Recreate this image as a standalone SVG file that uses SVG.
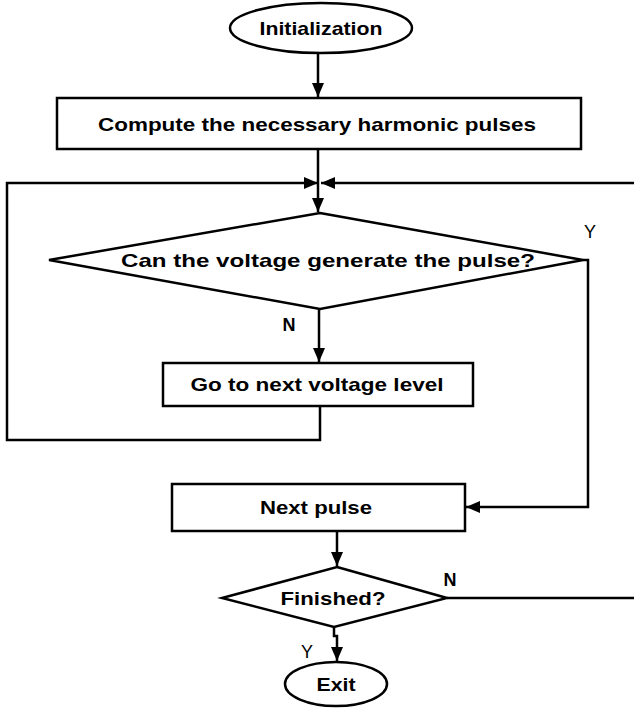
<svg xmlns="http://www.w3.org/2000/svg" width="634" height="708" viewBox="0 0 634 708">
<defs>
<marker id="ah" markerUnits="userSpaceOnUse" markerWidth="14" markerHeight="12" viewBox="0 0 14 12" refX="14" refY="6" orient="auto">
<path d="M0,0 L14,6 L0,12 z" fill="#000"/>
</marker>
</defs>
<style>
.s{fill:#fff;stroke:#000;stroke-width:2.5}
.c{fill:none;stroke:#000;stroke-width:2.5}
.t{font-family:"Liberation Sans",Arial,sans-serif;font-weight:bold;font-size:19px;fill:#000;text-anchor:middle;dominant-baseline:central}
.l{font-family:"Liberation Sans",Arial,sans-serif;font-weight:bold;font-size:18px;fill:#000;text-anchor:middle;dominant-baseline:central}
.y{font-weight:normal}
</style>
<rect width="634" height="708" fill="#fff"/>
<g id="connectors">
<path class="c" d="M318,53 V97" marker-end="url(#ah)"/>
<path class="c" d="M318,149 V212" marker-end="url(#ah)"/>
<path class="c" d="M320,406 V440 H7 V183 H318" marker-end="url(#ah)"/>
<path class="c" d="M634,183 H321" marker-end="url(#ah)"/>
<path class="c" d="M583,260 H588 V507 H466" marker-end="url(#ah)"/>
<path class="c" d="M319,309 V362" marker-end="url(#ah)"/>
<path class="c" d="M337,531 V566" marker-end="url(#ah)"/>
<path class="c" d="M447,598 H634"/>
<path class="c" d="M334,627 V636 H337 V661" marker-end="url(#ah)"/>
</g>
<g id="init">
<ellipse class="s" cx="321" cy="28" rx="91" ry="25"/>
<text class="t" x="321" y="28" textLength="123" lengthAdjust="spacingAndGlyphs">Initialization</text>
</g>
<g id="compute">
<rect class="s" x="57" y="98" width="524" height="51"/>
<text class="t" x="317" y="124" textLength="438" lengthAdjust="spacingAndGlyphs">Compute the necessary harmonic pulses</text>
</g>
<g id="decision1">
<polygon class="s" points="320,213 583,260 320,309 49,260"/>
<text class="t" x="328" y="260" textLength="414" lengthAdjust="spacingAndGlyphs">Can the voltage generate the pulse?</text>
</g>
<g id="nextlevel">
<rect class="s" x="163" y="363" width="310" height="43"/>
<text class="t" x="317" y="384" textLength="253" lengthAdjust="spacingAndGlyphs">Go to next voltage level</text>
</g>
<g id="nextpulse">
<rect class="s" x="172" y="484" width="293" height="47"/>
<text class="t" x="316" y="507" textLength="112" lengthAdjust="spacingAndGlyphs">Next pulse</text>
</g>
<g id="finished">
<polygon class="s" points="337,567 447,598 334,627 222,598"/>
<text class="t" x="333" y="598" textLength="105" lengthAdjust="spacingAndGlyphs">Finished?</text>
</g>
<g id="exit">
<ellipse class="s" cx="336" cy="684" rx="51" ry="22"/>
<text class="t" x="336" y="684" textLength="39" lengthAdjust="spacingAndGlyphs">Exit</text>
</g>
<g id="labels">
<text class="l" x="289" y="325">N</text>
<text class="l y" x="590" y="232">Y</text>
<text class="l" x="450" y="580">N</text>
<text class="l y" x="307" y="652">Y</text>
</g>
</svg>
